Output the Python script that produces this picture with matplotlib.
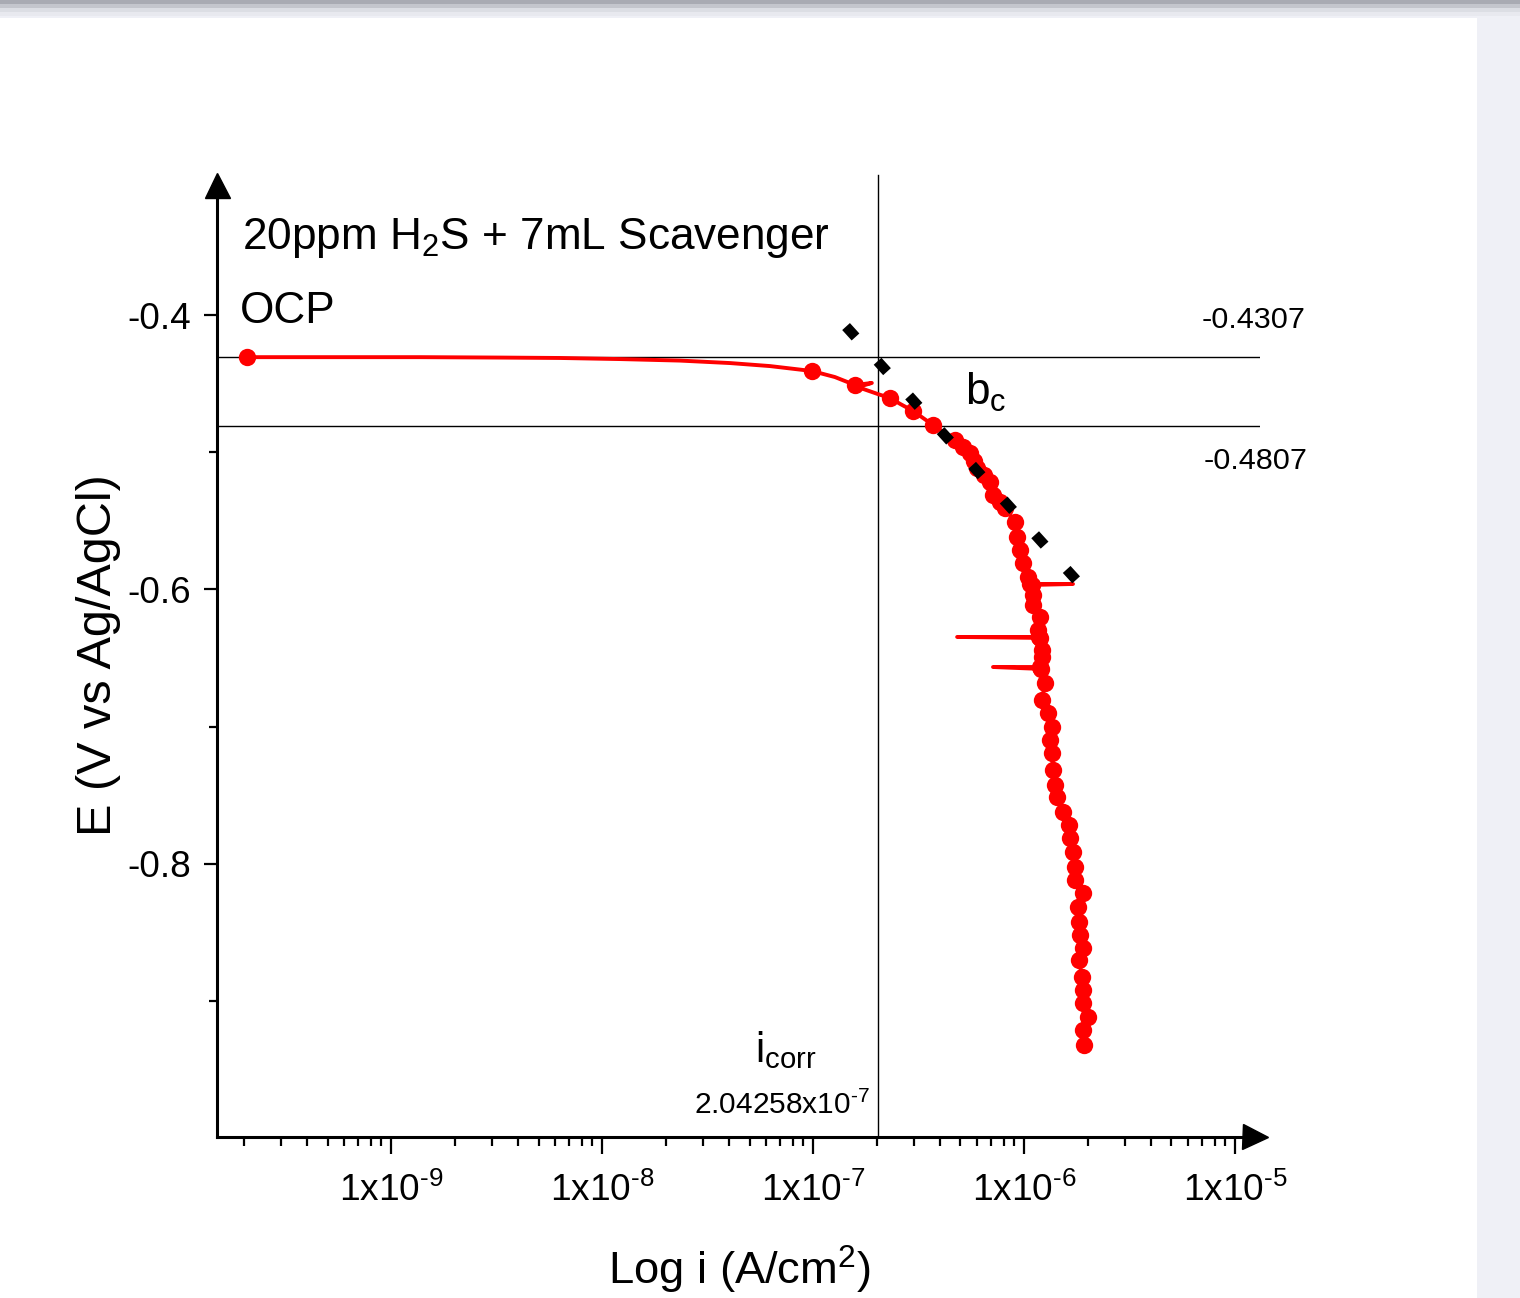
import matplotlib
matplotlib.use('Agg')
import matplotlib.pyplot as plt
from matplotlib import font_manager
from matplotlib.patches import Rectangle
from matplotlib.ticker import FixedLocator, FixedFormatter, LogLocator, NullFormatter

# ---------------- data ----------------
i_data = [2.08e-10, 5.14e-10, 1.37e-9, 3.29e-9, 6.32e-9, 1.22e-8, 2.34e-8, 4.04e-8,
          6.25e-8, 9.89e-8, 1.27e-7, 1.58e-7, 1.90e-7, 1.63e-7, 2.03e-7, 2.32e-7,
          2.59e-7, 2.98e-7, 3.32e-7, 3.70e-7, 4.22e-7, 4.71e-7, 5.14e-7, 5.55e-7,
          5.80e-7, 5.99e-7, 6.46e-7, 6.90e-7, 7.13e-7, 7.70e-7, 8.13e-7, 9.06e-7,
          9.26e-7, 9.57e-7, 9.89e-7, 1.045e-6, 1.068e-6, 1.707e-6, 1.091e-6, 1.103e-6,
          1.103e-6, 1.191e-6, 1.165e-6, 1.178e-6, 4.82e-7, 1.191e-6, 1.217e-6, 1.217e-6,
          1.191e-6, 7.13e-7, 1.204e-6, 1.257e-6, 1.217e-6, 1.299e-6, 1.357e-6, 1.328e-6,
          1.357e-6, 1.372e-6, 1.402e-6, 1.433e-6, 1.530e-6, 1.634e-6, 1.652e-6, 1.707e-6,
          1.744e-6, 1.744e-6, 1.904e-6, 1.803e-6, 1.823e-6, 1.843e-6, 1.904e-6, 1.823e-6,
          1.883e-6, 1.904e-6, 1.904e-6, 2.010e-6, 1.904e-6, 1.925e-6]
E_data = [-0.4307, -0.4307, -0.4307, -0.4310, -0.4313, -0.4321, -0.4332, -0.4350,
          -0.4372, -0.4408, -0.4452, -0.4510, -0.4495, -0.4525, -0.4576, -0.4605,
          -0.4648, -0.4699, -0.4750, -0.4801, -0.4860, -0.4911, -0.4962, -0.5005,
          -0.5064, -0.5115, -0.5166, -0.5217, -0.5311, -0.5362, -0.5406, -0.5508,
          -0.5617, -0.5712, -0.5807, -0.5909, -0.5960, -0.5960, -0.5967, -0.6040,
          -0.6113, -0.6200, -0.6295, -0.6346, -0.6346, -0.6353, -0.6441, -0.6492,
          -0.6565, -0.6565, -0.6579, -0.6681, -0.6805, -0.6900, -0.7002, -0.7097,
          -0.7191, -0.7315, -0.7424, -0.7512, -0.7621, -0.7716, -0.7811, -0.7913,
          -0.8022, -0.8117, -0.8211, -0.8313, -0.8423, -0.8517, -0.8612, -0.8699,
          -0.8823, -0.8918, -0.9013, -0.9115, -0.9210, -0.9319]
# points drawn without a symbol (sparse OCP region and the noise spikes)
no_symbol_idx = [1, 2, 3, 4, 5, 6, 7, 8, 10, 12, 13, 14, 16, 18, 20, 37, 44, 49]

tafel_i = [1.434e-7, 1.803e-6]
tafel_E = [-0.4084, -0.5945]

E_ocp = -0.4307
E_low = -0.4807
i_corr = 2.04258e-7

xtick_vals = [1e-9, 1e-8, 1e-7, 1e-6, 1e-5]
xtick_labels = ['1x10$^{\\text{-}9}$', '1x10$^{\\text{-}8}$', '1x10$^{\\text{-}7}$',
                '1x10$^{\\text{-}6}$', '1x10$^{\\text{-}5}$']
ytick_vals = [-0.4, -0.6, -0.8]
ytick_labels = ['-0.4', '-0.6', '-0.8']
yminor_vals = [-0.5, -0.7, -0.9]

title_text = '20ppm H$_2$S + 7mL Scavenger'
xlabel_text = 'Log i (A/cm$^2$)'
ylabel_text = 'E (V vs Ag/AgCl)'

# ---------------- fonts ----------------
names = {f.name for f in font_manager.fontManager.ttflist}
if 'Liberation Sans Narrow' in names:
    fam, k = 'Liberation Sans Narrow', 1.0
else:
    fam, k = 'Liberation Sans', 0.86
plt.rcParams['font.family'] = [fam, 'DejaVu Sans']
plt.rcParams['mathtext.fontset'] = 'custom'
plt.rcParams['mathtext.rm'] = fam
plt.rcParams['mathtext.it'] = fam
plt.rcParams['mathtext.bf'] = fam
plt.rcParams['mathtext.default'] = 'regular'

# ---------------- figure ----------------
W, H = 1520, 1298
fig = plt.figure(figsize=(W / 100, H / 100), dpi=100, facecolor='#eff0f6')
fig.add_artist(Rectangle((0, 0), 1477 / W, (H - 18) / H, transform=fig.transFigure,
                         facecolor='white', edgecolor='none', zorder=-10))
for y0, hh, c in [(0, 4, '#a9abb3'), (4, 4, '#c4c6cd'), (8, 4, '#dcdee4'), (12, 4, '#e8e9ef')]:
    fig.add_artist(Rectangle((0, (H - y0 - hh) / H), 1, hh / H, transform=fig.transFigure,
                             facecolor=c, edgecolor='none', zorder=-9))

L, R, B, T = 217, 1260, 1137, 180
ax = fig.add_axes([L / W, (H - B) / H, (R - L) / W, (B - T) / H])
ax.patch.set_alpha(0)
ax.set_xscale('log')
ax.set_xlim(1.496e-10, 1.314e-5)
ax.set_ylim(-0.999, -0.3016)

# reference lines
ax.axhline(E_ocp, color='black', lw=1.0, zorder=1)
ax.axhline(E_low, color='black', lw=1.0, zorder=1)
ax.axvline(i_corr, ymin=0, ymax=1.0052, color='black', lw=1.0, clip_on=False, zorder=1)

# data
mark_idx = [j for j in range(len(i_data)) if j not in no_symbol_idx]
ax.plot(i_data, E_data, color='#ff0000', lw=2.8, marker='o', markersize=12.5,
        markevery=mark_idx, markeredgewidth=0, zorder=3)

# Tafel line
ax.plot(tafel_i, tafel_E, color='black', lw=7.5, zorder=4,
        dashes=(1.35, 3.15), solid_capstyle='butt', dash_capstyle='butt')

# axes style
for s in ['top', 'right']:
    ax.spines[s].set_visible(False)
for s in ['left', 'bottom']:
    ax.spines[s].set_linewidth(2.2)

ax.xaxis.set_major_locator(FixedLocator(xtick_vals))
ax.xaxis.set_major_formatter(FixedFormatter(xtick_labels))
ax.xaxis.set_minor_locator(LogLocator(base=10, subs=range(2, 10), numticks=30))
ax.xaxis.set_minor_formatter(NullFormatter())
ax.yaxis.set_major_locator(FixedLocator(ytick_vals))
ax.yaxis.set_major_formatter(FixedFormatter(ytick_labels))
ax.yaxis.set_minor_locator(FixedLocator(yminor_vals))

ax.tick_params(axis='x', which='major', direction='out', length=12, width=1.6,
               pad=14, labelsize=31 * k)
ax.tick_params(axis='x', which='minor', direction='out', length=6.5, width=1.6)
ax.tick_params(axis='y', which='major', direction='out', length=9.5, width=1.6,
               pad=9, labelsize=31 * k)
ax.tick_params(axis='y', which='minor', direction='out', length=5.5, width=1.6)

# axis arrows
ax.plot([0], [0.9943], marker='^', markersize=18, color='black', transform=ax.transAxes,
        clip_on=False, zorder=6)
ax.plot([0.9952], [0], marker='>', markersize=18, color='black', transform=ax.transAxes,
        clip_on=False, zorder=6)

# labels
ax.set_xlabel(xlabel_text, fontsize=38 * k)
ax.xaxis.set_label_coords(0.5014, -0.112)
ax.set_ylabel(ylabel_text, fontsize=35, family=['Liberation Sans', 'DejaVu Sans'])
ax.yaxis.label.set_verticalalignment('center')
ax.yaxis.set_label_coords(-0.114, 0.504)

# annotations
ax.text(0.024, 0.928, title_text, transform=ax.transAxes, fontsize=37 * k,
        ha='left', va='baseline')
ax.text(0.022, 0.8506, 'OCP', transform=ax.transAxes, fontsize=37 * k,
        ha='left', va='baseline')
ax.text(0.717, 0.765, 'b$_c$', transform=ax.transAxes, fontsize=37 * k,
        ha='left', va='baseline')
ax.annotate(f'{E_ocp:.4f}', xy=(1.0, E_ocp), xycoords=('axes fraction', 'data'),
            xytext=(33, 26.6), textcoords='offset points', ha='right', va='center',
            fontsize=25.5 * k, annotation_clip=False)
ax.annotate(f'{E_low:.4f}', xy=(1.0, E_low), xycoords=('axes fraction', 'data'),
            xytext=(34.5, -25.2), textcoords='offset points', ha='right', va='center',
            fontsize=25.5 * k, annotation_clip=False)
mant, expo = f'{i_corr:.5e}'.split('e')
ax.annotate(f'{mant}x10$^{{\\text{{-}}{abs(int(expo))}}}$', xy=(i_corr, 0),
            xycoords=('data', 'axes fraction'),
            xytext=(-5.8, 16.5), textcoords='offset points', ha='right', va='baseline',
            fontsize=25 * k)
ax.annotate('i$_{corr}$', xy=(i_corr, 0), xycoords=('data', 'axes fraction'),
            xytext=(-67, 54), textcoords='offset points', ha='center', va='baseline',
            fontsize=35 * k)

fig.savefig('out.png', dpi=100, facecolor=fig.get_facecolor())
